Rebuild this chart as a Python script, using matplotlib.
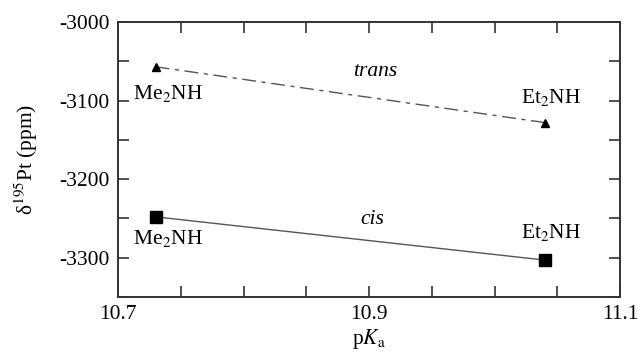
import matplotlib
matplotlib.use("Agg")
import matplotlib.pyplot as plt
from matplotlib.ticker import MultipleLocator, FixedLocator

plt.rcParams["font.family"] = ["Liberation Serif", "DejaVu Serif"]
plt.rcParams["mathtext.fontset"] = "stix"

# pKa of the amine ligands
amines = ["Me$_2$NH", "Et$_2$NH"]
pka = [10.73, 11.04]
# 195Pt chemical shifts (ppm)
shift_trans = [-3057, -3128]
shift_cis = [-3248, -3303]

fig = plt.figure(figsize=(6.38, 3.52), dpi=100)
ax = fig.add_axes([118/638, 1 - 297/352, (620-118)/638, (297-22)/352])

ax.plot(pka, shift_trans, color="#555555", lw=1.0, dashes=(10, 4, 3, 4), zorder=1)
ax.plot(pka, shift_trans, "^", color="black", ms=6, ls="none", zorder=2)
ax.plot(pka, shift_cis, color="#555555", lw=1.0, zorder=1)
ax.plot(pka, shift_cis, "s", color="black", ms=9, ls="none", zorder=2)

fs = 15.5
# amine labels
ax.text(pka[0] + 0.010, shift_trans[0] - 20, amines[0], ha="center", va="top", fontsize=fs)
ax.text(pka[1] + 0.005, shift_trans[1] + 18, amines[1], ha="center", va="bottom", fontsize=fs)
ax.text(pka[0] + 0.010, shift_cis[0] - 14, amines[0], ha="center", va="top", fontsize=fs)
ax.text(pka[1] + 0.005, shift_cis[1] + 22, amines[1], ha="center", va="bottom", fontsize=fs)
ax.text(10.905, -3063, "trans", style="italic", ha="center", va="center", fontsize=fs)
ax.text(10.903, -3252, "cis", style="italic", ha="center", va="center", fontsize=fs)

ax.set_xlim(10.7, 11.1)
ax.set_ylim(-3350, -3000)
ax.xaxis.set_major_locator(FixedLocator([10.7, 10.9, 11.1]))
ax.xaxis.set_minor_locator(MultipleLocator(0.05))
ax.xaxis.set_major_formatter(plt.FuncFormatter(lambda v, p: f"{v:.1f}"))
ax.yaxis.set_major_locator(MultipleLocator(100))
ax.yaxis.set_minor_locator(MultipleLocator(50))
ax.yaxis.set_major_formatter(plt.FuncFormatter(lambda v, p: f"{int(round(v))}"))

ax.tick_params(which="both", direction="in", top=True, right=True, length=8, width=1.2,
               color="#333333", labelsize=fs, pad=6)
for s in ax.spines.values():
    s.set_linewidth(1.4)
    s.set_color("#333333")

ax.set_xlabel("p$\\mathit{K}_\\mathrm{a}$", fontsize=fs, labelpad=2)
ax.set_ylabel("\u03b4$^{195}$Pt (ppm)", fontsize=fs, labelpad=14)

fig.savefig("out.png", dpi=100)
